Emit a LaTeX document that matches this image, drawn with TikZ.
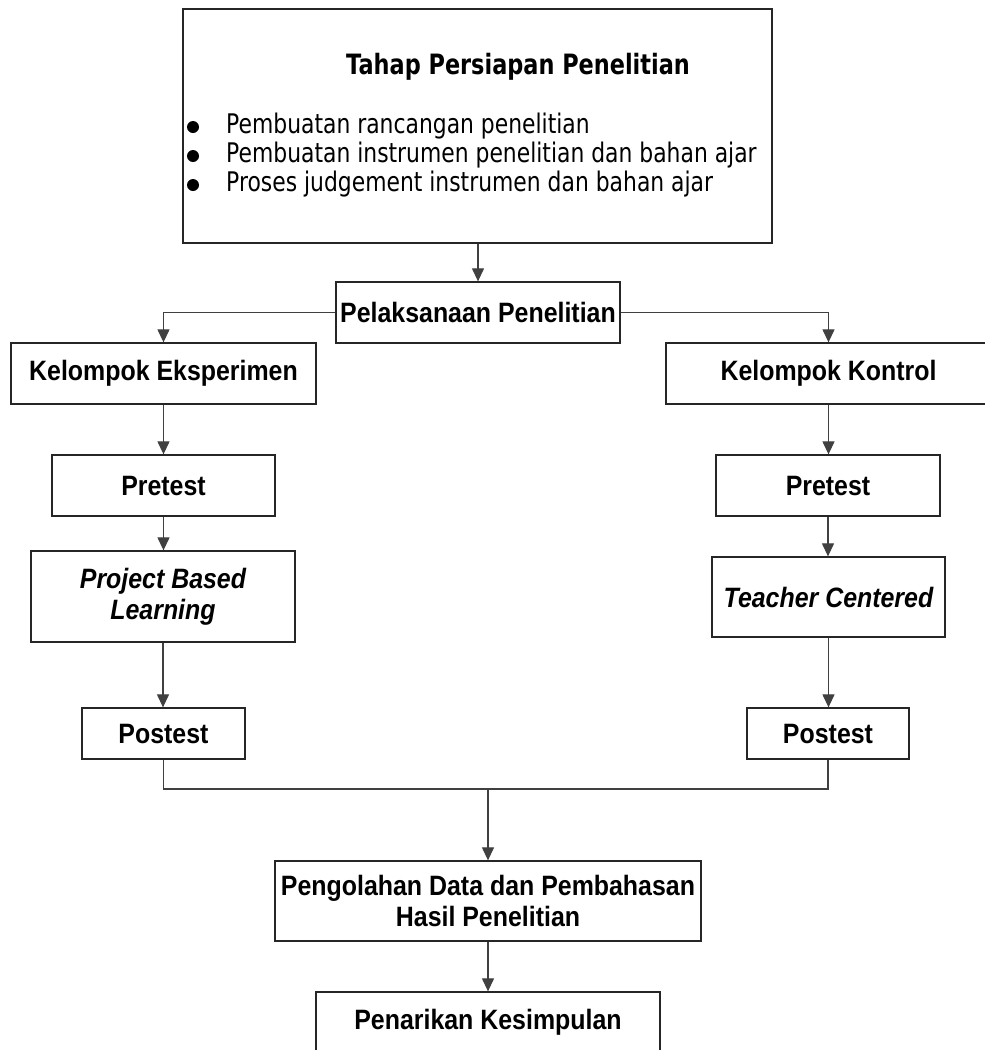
\documentclass[tikz,border=0pt]{standalone}
\usepackage{fontspec}
\setmainfont{Liberation Sans}
\newfontfamily\boxfont[FakeStretch=0.89]{Liberation Sans}
\newfontfamily\titlefont[FakeStretch=0.80]{DejaVu Sans}
\newfontfamily\bulfont[FakeStretch=0.81]{DejaVu Sans}
\usetikzlibrary{arrows.meta}
\begin{document}
\begin{tikzpicture}[x=1pt,y=-1pt,
  box/.style={draw=black!85, line width=1.3pt, rectangle, inner sep=0pt,
    font=\boxfont\bfseries\fontsize{28}{31}\selectfont, align=center},
  conn/.style={draw=black!75, line width=1.2pt},
  arr/.style={conn, -{Triangle[length=13pt,width=12pt]}},
  bullettext/.style={anchor=base west, inner sep=0pt, font=\bulfont\fontsize{27}{30}\selectfont},
  dot/.style={circle, fill=black, inner sep=0pt, minimum size=12pt},
]
\clip (0,0) rectangle (985,1050);
\fill[white] (0,0) rectangle (985,1050);

% top box
\node[box, minimum width=589pt, minimum height=234pt] (top) at (477.5,126) {};
\node[anchor=base, inner sep=0pt, font=\titlefont\bfseries\fontsize{28}{30}\selectfont] (title) at (518,74) {Tahap Persiapan Penelitian};
\node[dot] (d1) at (193,127) {};
\node[dot] (d2) at (193,156) {};
\node[dot] (d3) at (193,185) {};
\node[bullettext] (b1) at (226,133) {Pembuatan rancangan penelitian};
\node[bullettext] (b2) at (226,162) {Pembuatan instrumen penelitian dan bahan ajar};
\node[bullettext] (b3) at (226,191) {Proses judgement instrumen dan bahan ajar};

% main nodes
\node[box, minimum width=284pt, minimum height=61pt] (pel) at (478,312.5) {Pelaksanaan Penelitian};
\node[box, minimum width=305pt, minimum height=61pt] (ke) at (163.5,373.5) {Kelompok Eksperimen};
\node[box, minimum width=325pt, minimum height=61pt] (kk) at (828.5,373.5) {Kelompok Kontrol};
\node[box, minimum width=223pt, minimum height=61pt] (pre1) at (163.5,485.5) {Pretest};
\node[box, minimum width=224pt, minimum height=61pt] (pre2) at (828,485.5) {Pretest};
\node[box, minimum width=264pt, minimum height=91pt] (pbl) at (163,596.5) {\itshape Project Based\\\itshape Learning};
\node[box, minimum width=233pt, minimum height=80pt] (tc) at (828.5,597) {\itshape Teacher Centered};
\node[box, minimum width=163pt, minimum height=51pt] (post1) at (163.5,733.5) {Postest};
\node[box, minimum width=162pt, minimum height=51pt] (post2) at (828,733.5) {Postest};
\node[box, minimum width=426pt, minimum height=80pt] (peng) at (488,901) {Pengolahan Data dan Pembahasan\\Hasil Penelitian};
\node[box, minimum width=344pt, minimum height=61pt] (pen) at (488,1022.5) {Penarikan Kesimpulan};
\coordinate (j) at (488,789);

% connectors
\draw[arr] (top.south -| pel.north) -- (pel.north);
\draw[arr] (pel.west) -| (ke.north);
\draw[arr] (pel.east) -| (kk.north);
\draw[arr] (ke.south) -- (ke.south |- pre1.north);
\draw[arr] (kk.south) -- (kk.south |- pre2.north);
\draw[arr] (pre1.south) -- (pre1.south |- pbl.north);
\draw[arr] (pre2.south) -- (pre2.south |- tc.north);
\draw[arr] (pbl.south) -- (pbl.south |- post1.north);
\draw[arr] (tc.south) -- (tc.south |- post2.north);
\draw[conn] (post1.south) |- (j) -| (post2.south);
\draw[arr] (j) -- (peng.north);
\draw[arr] (peng.south) -- (pen.north);
\end{tikzpicture}
\end{document}
